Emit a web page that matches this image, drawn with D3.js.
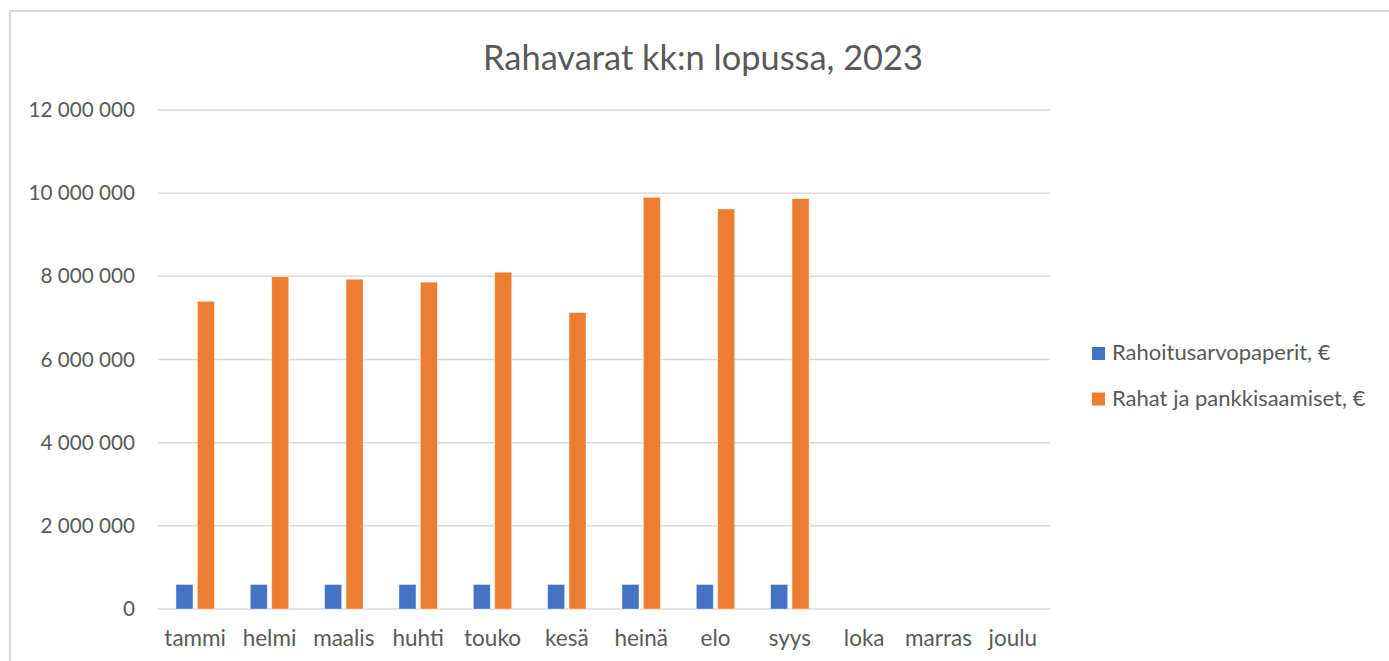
<!DOCTYPE html>
<html>
<head>
<meta charset="utf-8">
<script src="https://cdn.jsdelivr.net/npm/d3@7"></script>
<style>
  body { margin: 0; background: #fff; }
  svg { display: block; }
  text { font-family: Lato, "Open Sans", sans-serif; fill: #595959; }
</style>
</head>
<body>
<svg width="1389" height="661"></svg>
<script>
var months = ["tammi", "helmi", "maalis", "huhti", "touko", "kesä", "heinä", "elo", "syys", "loka", "marras", "joulu"];
var seriesNames = ["Rahoitusarvopaperit, €", "Rahat ja pankkisaamiset, €"];
var rahoitus = [590000, 590000, 590000, 590000, 590000, 590000, 590000, 590000, 590000, null, null, null];
var rahat = [7400000, 7990000, 7930000, 7860000, 8100000, 7130000, 9900000, 9620000, 9870000, null, null, null];
var yTicks = [0, 2000000, 4000000, 6000000, 8000000, 10000000, 12000000];
var colors = ["#4472c4", "#ed7d31"];

var svg = d3.select("svg"),
  margin = { top: 110, left: 158, right: 339, bottom: 52 },
  width = +svg.attr("width") - margin.left - margin.right,
  height = +svg.attr("height") - margin.top - margin.bottom;

// chart border (Excel chart frame)
svg.append("path")
  .attr("d", "M10,700 L10,11 L1400,11")
  .attr("fill", "none")
  .attr("stroke", "#d9d9d9")
  .attr("stroke-width", 2);

svg.append("text")
  .attr("x", 703)
  .attr("y", 70)
  .attr("text-anchor", "middle")
  .style("font-size", "34.4px")
  .text("Rahavarat kk:n lopussa, 2023");

var g = svg.append("g").attr("transform", "translate(" + margin.left + "," + margin.top + ")");

var x = d3.scaleBand().domain(months).range([0, width]);
var y = d3.scaleLinear().domain([0, 12000000]).range([height, 0]);

var fmt = function (d) { return d3.format(",")(d).replace(/,/g, " "); };

// gridlines
g.append("g")
  .selectAll("line")
  .data(yTicks)
  .enter().append("line")
  .attr("x1", 0)
  .attr("x2", width)
  .attr("y1", function (d) { return y(d); })
  .attr("y2", function (d) { return y(d); })
  .attr("stroke", "#d9d9d9")
  .attr("stroke-width", 1.5);

var yAxis = g.append("g").call(d3.axisLeft(y).tickValues(yTicks).tickFormat(fmt).tickSize(0).tickPadding(23));
yAxis.select(".domain").remove();
yAxis.selectAll("text").style("font-size", "20.7px").attr("fill", "#595959");

var xAxis = g.append("g")
  .attr("transform", "translate(0," + height + ")")
  .call(d3.axisBottom(x).tickSize(0).tickPadding(21));
xAxis.select(".domain").remove();
xAxis.selectAll("text").style("font-size", "22.5px").attr("fill", "#595959");

var barW = 17, off = 10.7;
var series = [rahoitus, rahat];
series.forEach(function (vals, si) {
  g.append("g")
    .selectAll("rect")
    .data(months.map(function (m, i) { return { m: m, v: vals[i] }; }).filter(function (d) { return d.v != null; }))
    .enter().append("rect")
    .attr("x", function (d) { return x(d.m) + x.bandwidth() / 2 + (si === 0 ? -off : off) - barW / 2; })
    .attr("y", function (d) { return y(d.v); })
    .attr("width", barW)
    .attr("height", function (d) { return height - y(d.v); })
    .attr("fill", colors[si])
    .attr("stroke", "#fff")
    .attr("stroke-opacity", 0.5)
    .attr("stroke-width", 0.8);
});

// legend
var legend = svg.append("g").attr("transform", "translate(1092,347)");
seriesNames.forEach(function (name, i) {
  var row = legend.append("g").attr("transform", "translate(0," + (i * 45.5) + ")");
  row.append("rect").attr("width", 13).attr("height", 13).attr("fill", colors[i]);
  row.append("text").attr("x", 20).attr("y", 13).style("font-size", "22px").text(name);
});
</script>
</body>
</html>
